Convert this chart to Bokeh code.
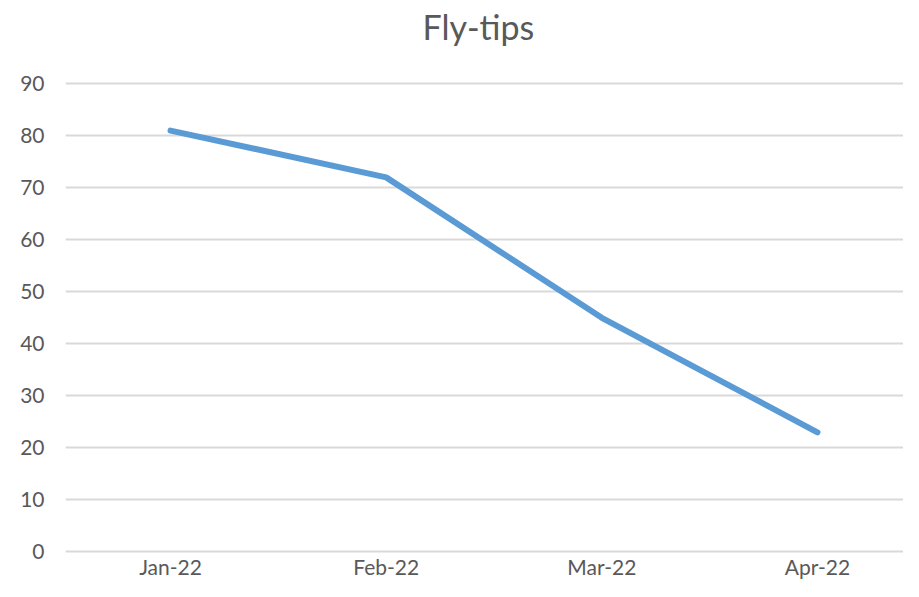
from bokeh.plotting import figure
from bokeh.models import Range1d, FixedTicker, Title
from bokeh.embed import file_html
from bokeh.resources import INLINE

months = ["Jan-22", "Feb-22", "Mar-22", "Apr-22"]
fly_tips = [81, 72, 45, 23]
y_ticks = [0, 10, 20, 30, 40, 50, 60, 70, 80, 90]
chart_title = "Fly-tips"

FONT = "Lato"
TXT = "#595959"

x_idx = list(range(len(months)))

p = figure(width=903, height=581, output_backend="svg", toolbar_location=None,
           x_range=Range1d(-0.487, 3.399), y_range=Range1d(-0.3, 91.2),
           title=chart_title,
           min_border_left=65, min_border_right=0, min_border_top=77, min_border_bottom=28)

p.line(x_idx, fly_tips, line_color="#5b9bd5", line_width=6,
       line_cap="round", line_join="round")

p.title.align = "left"
p.title.offset = 357
p.title.standoff = 0
p.title.text_font = FONT
p.title.text_font_size = "34px"
p.title.text_font_style = "normal"
p.title.text_color = TXT
# invisible spacer between the title and the plot frame
p.add_layout(Title(text=" ", text_font_size="1px", standoff=28), "above")

p.xaxis.ticker = FixedTicker(ticks=x_idx)
p.xaxis.major_label_overrides = {i: m for i, m in zip(x_idx, months)}
p.yaxis.ticker = FixedTicker(ticks=y_ticks)

for ax in (p.xaxis, p.yaxis):
    ax.axis_line_color = None
    ax.major_tick_line_color = None
    ax.minor_tick_line_color = None
    ax.major_tick_out = 0
    ax.major_tick_in = 0
    ax.minor_tick_out = 0
    ax.minor_tick_in = 0
    ax.major_label_text_font = FONT
    ax.major_label_text_font_size = "21px"
    ax.major_label_text_color = TXT
p.xaxis.major_label_standoff = 0
p.yaxis.major_label_standoff = 21

p.xgrid.grid_line_color = None
p.ygrid.grid_line_color = "#d9d9d9"
p.ygrid.grid_line_width = 2
p.outline_line_color = None

open("out.html", "w").write(file_html(p, INLINE))
